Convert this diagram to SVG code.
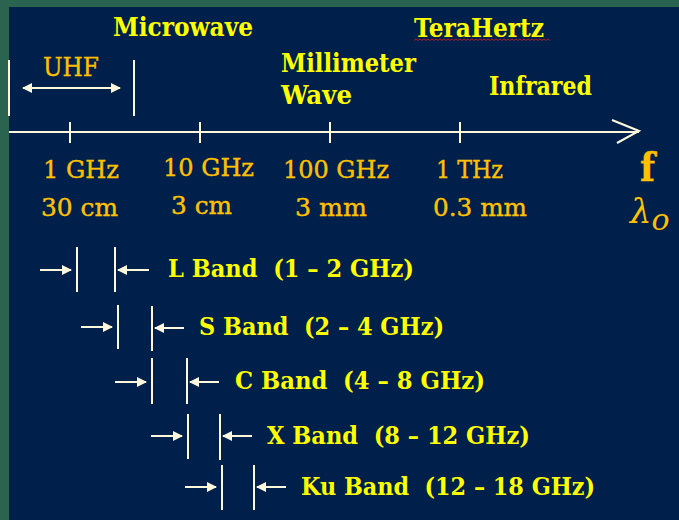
<svg xmlns="http://www.w3.org/2000/svg" width="679" height="520" viewBox="0 0 679 520">
<defs>
<style>
text{white-space:pre}
.y{fill:#FFFF00;font-family:"DejaVu Serif","Liberation Serif",serif;font-size:25px;font-weight:bold}
.o{fill:#FFC000;stroke:#FFC000;stroke-width:0.4;font-family:"DejaVu Serif","Liberation Serif",serif;font-size:25px}
.ln{stroke:#FFF8DC;stroke-width:2;fill:none}
.ar{stroke:#FFF8DC;stroke-width:2;fill:none;marker-end:url(#ah)}
</style>
<marker id="ah" viewBox="0 0 10 10" refX="9" refY="5" markerWidth="5" markerHeight="5" markerUnits="strokeWidth" orient="auto-start-reverse">
<path d="M0,0 L10,5 L0,10 Z" fill="#FFF8DC"/>
</marker>
</defs>
<rect x="0" y="0" width="679" height="520" fill="#2A6350"/>
<rect x="9" y="7" width="670" height="513" fill="#00204C"/>

<g id="axis">
<line class="ln" x1="9" y1="132" x2="639" y2="132"/>
<polyline class="ln" points="612,120 639,131 617,143"/>
<line class="ln" x1="70" y1="122" x2="70" y2="143"/>
<line class="ln" x1="200" y1="122" x2="200" y2="143"/>
<line class="ln" x1="330" y1="122" x2="330" y2="143"/>
<line class="ln" x1="460" y1="122" x2="460" y2="143"/>
</g>

<g id="uhf">
<line class="ln" x1="9" y1="60" x2="9" y2="116"/>
<line class="ln" x1="134" y1="60" x2="134" y2="116"/>
<line class="ar" x1="23" y1="88" x2="120" y2="88" style="marker-start:url(#ah)"/>
<text class="o" x="43" y="76" textLength="56" lengthAdjust="spacingAndGlyphs" style="font-size:26px">UHF</text>
</g>

<g id="regions">
<text class="y" x="113" y="36" textLength="140" lengthAdjust="spacingAndGlyphs" style="font-size:26px">Microwave</text>
<text class="y" x="281" y="72" textLength="135" lengthAdjust="spacingAndGlyphs" style="font-size:26px">Millimeter</text>
<text class="y" x="281" y="104" textLength="71" lengthAdjust="spacingAndGlyphs" style="font-size:26px">Wave</text>
<text class="y" x="414" y="37" textLength="130" lengthAdjust="spacingAndGlyphs" style="font-size:26px">TeraHertz</text>
<path d="M414,40.5 l2,-1.5 l2,1.5 l2,-1.5 l2,1.5 l2,-1.5 l2,1.5 l2,-1.5 l2,1.5 l2,-1.5 l2,1.5 l2,-1.5 l2,1.5 l2,-1.5 l2,1.5 l2,-1.5 l2,1.5 l2,-1.5 l2,1.5 l2,-1.5 l2,1.5 l2,-1.5 l2,1.5 l2,-1.5 l2,1.5 l2,-1.5 l2,1.5 l2,-1.5 l2,1.5 l2,-1.5 l2,1.5 l2,-1.5 l2,1.5 l2,-1.5 l2,1.5 l2,-1.5 l2,1.5 l2,-1.5 l2,1.5 l2,-1.5 l2,1.5 l2,-1.5 l2,1.5 l2,-1.5 l2,1.5 l2,-1.5 l2,1.5 l2,-1.5 l2,1.5 l2,-1.5 l2,1.5 l2,-1.5 l2,1.5 l2,-1.5 l2,1.5 l2,-1.5 l2,1.5 l2,-1.5 l2,1.5 l2,-1.5 l2,1.5 l2,-1.5 l2,1.5 l2,-1.5 l2,1.5 l2,-1.5 l2,1.5 l2,-1.5 l2,1.5" fill="none" stroke="#E02020" stroke-width="0.8"/>
<text class="y" x="489" y="95" textLength="103" lengthAdjust="spacingAndGlyphs" style="font-size:26px">Infrared</text>
</g>

<g id="labels">
<text class="o" x="43" y="178" textLength="76" lengthAdjust="spacingAndGlyphs">1 GHz</text>
<text class="o" x="41" y="216" textLength="77" lengthAdjust="spacingAndGlyphs">30 cm</text>
<text class="o" x="163" y="176" textLength="91" lengthAdjust="spacingAndGlyphs">10 GHz</text>
<text class="o" x="171" y="214" textLength="61" lengthAdjust="spacingAndGlyphs">3 cm</text>
<text class="o" x="283" y="178" textLength="106" lengthAdjust="spacingAndGlyphs">100 GHz</text>
<text class="o" x="295" y="216" textLength="72" lengthAdjust="spacingAndGlyphs">3 mm</text>
<text class="o" x="436" y="178" textLength="67" lengthAdjust="spacingAndGlyphs">1 THz</text>
<text class="o" x="433" y="216" textLength="94" lengthAdjust="spacingAndGlyphs">0.3 mm</text>
<text class="o" x="640" y="181" textLength="15" lengthAdjust="spacingAndGlyphs" style="font-size:40px;font-weight:bold">f</text>
<text class="o" x="630" y="223" style="font-size:34px;font-style:italic;stroke-width:0">λ<tspan style="font-size:30px" dy="7">o</tspan></text>
</g>

<g id="bands">
<g id="L-band">
<line class="ar" x1="40" y1="270" x2="71" y2="270"/>
<line class="ln" x1="77" y1="247" x2="77" y2="292"/>
<line class="ln" x1="115" y1="247" x2="115" y2="292"/>
<line class="ar" x1="149" y1="270" x2="118" y2="270"/>
<text class="y" x="168" y="277" textLength="246" lengthAdjust="spacingAndGlyphs">L Band  (1 – 2 GHz)</text>
</g>
<g id="S-band">
<line class="ar" x1="81" y1="327" x2="112" y2="327"/>
<line class="ln" x1="118" y1="305" x2="118" y2="349"/>
<line class="ln" x1="152" y1="306" x2="152" y2="351"/>
<line class="ar" x1="184" y1="328" x2="155" y2="328"/>
<text class="y" x="199" y="335" textLength="245" lengthAdjust="spacingAndGlyphs">S Band  (2 – 4 GHz)</text>
</g>
<g id="C-band">
<line class="ar" x1="115" y1="382" x2="146" y2="382"/>
<line class="ln" x1="152" y1="358" x2="152" y2="404"/>
<line class="ln" x1="187" y1="358" x2="187" y2="404"/>
<line class="ar" x1="219" y1="382" x2="190" y2="382"/>
<text class="y" x="235" y="389" textLength="250" lengthAdjust="spacingAndGlyphs">C Band  (4 – 8 GHz)</text>
</g>
<g id="X-band">
<line class="ar" x1="151" y1="436" x2="182" y2="436"/>
<line class="ln" x1="188" y1="414" x2="188" y2="459"/>
<line class="ln" x1="220" y1="414" x2="220" y2="460"/>
<line class="ar" x1="252" y1="436" x2="223" y2="436"/>
<text class="y" x="267" y="444" textLength="263" lengthAdjust="spacingAndGlyphs">X Band  (8 – 12 GHz)</text>
</g>
<g id="Ku-band">
<line class="ar" x1="185" y1="487" x2="216" y2="487"/>
<line class="ln" x1="222" y1="465" x2="222" y2="510"/>
<line class="ln" x1="254" y1="465" x2="254" y2="510"/>
<line class="ar" x1="286" y1="487" x2="257" y2="487"/>
<text class="y" x="301" y="495" textLength="294" lengthAdjust="spacingAndGlyphs">Ku Band  (12 – 18 GHz)</text>
</g>
</g>
</svg>
